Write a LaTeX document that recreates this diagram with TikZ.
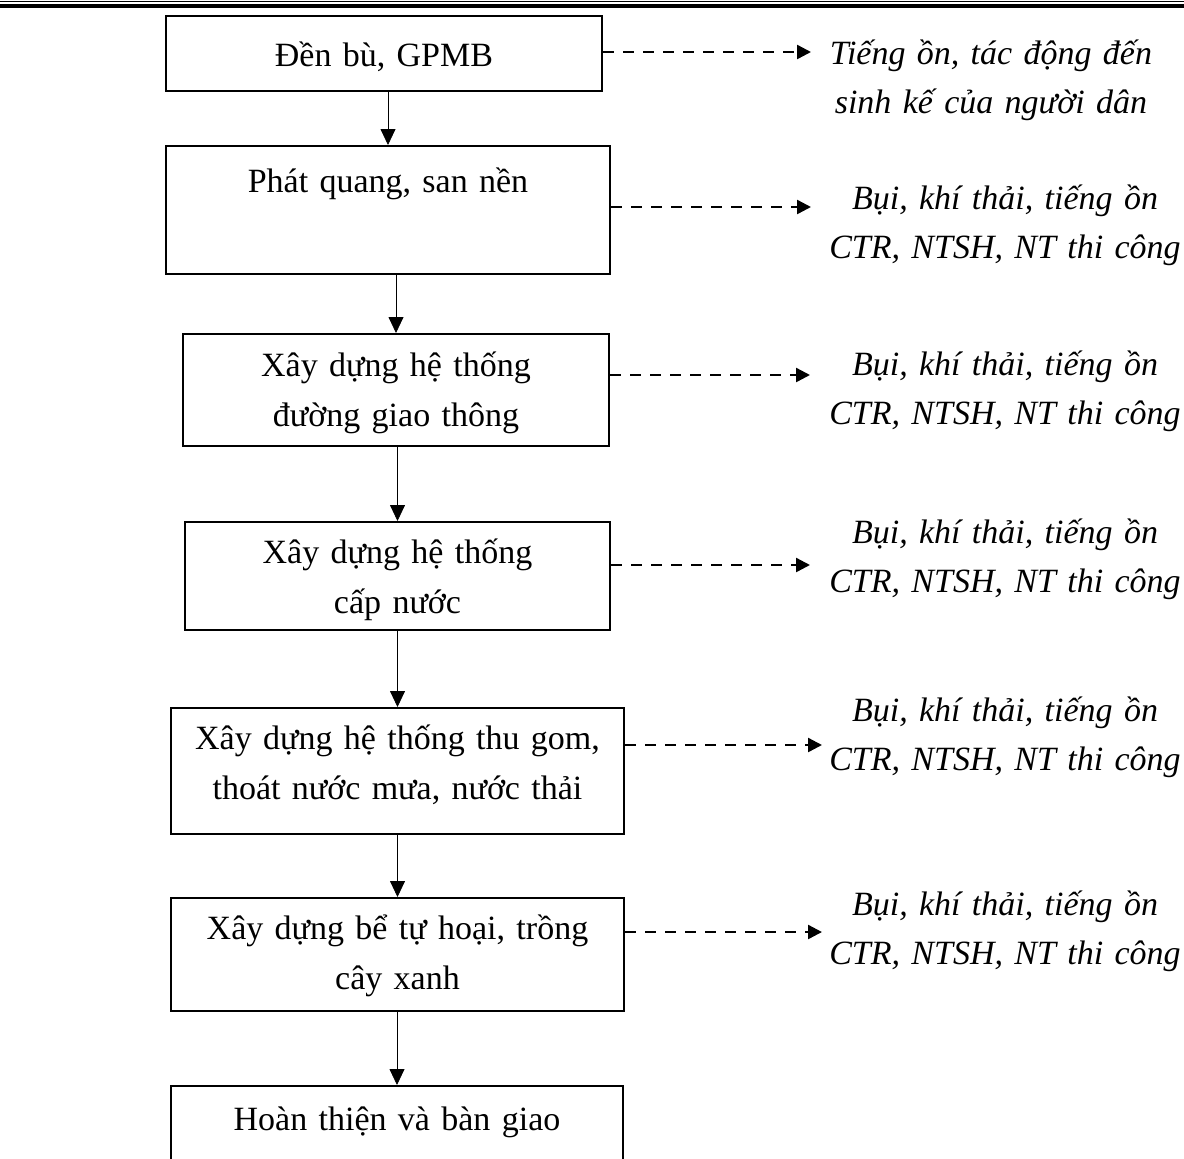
\documentclass[tikz,border=0pt]{standalone}
\usepackage{fontspec}
\setmainfont{Liberation Serif}
\usepackage{tikz}
\usetikzlibrary{arrows.meta}
\tikzset{>={Triangle[length=8pt,width=7.5pt]}, line width=1.2pt}
\tikzset{
  stage/.style={draw,line width=1pt,anchor=north,inner sep=0pt,align=center,
    font=\fontsize{17}{25}\selectfont},
  impact/.style={anchor=base,inner sep=0pt,align=center,text width=200pt,
    font=\fontsize{17}{24.5}\selectfont\itshape},
  effect/.style={-{Triangle[length=7pt,width=7pt]},
    dash pattern=on 5.5pt off 4.5pt,line width=1.2pt}
}

\begin{document}
\begin{tikzpicture}[x=0.5pt,y=-0.5pt]
  \useasboundingbox (0,0) rectangle (1184,1158);
  \clip (0,0) rectangle (1184,1158);

  % header rule
  \draw[line width=0.6pt] (0,1.5) -- (1184,1.5);
  \draw[line width=2pt] (0,5.5) -- (1184,5.5);

  % Den bu, GPMB
  \node[stage,text width=218pt,text height=25pt,text depth=12.5pt]
    (b1) at (384,15) {Đền bù, GPMB};
  % Phat quang
  \node[stage,text width=222pt,text height=23pt,text depth=41pt]
    (b2) at (388,145) {Phát quang, san nền};
  % Giao thong
  \node[stage,text width=213pt,text height=21pt,text depth=35pt]
    (b3) at (396,333) {Xây dựng hệ thống\\đường giao thông};
  % Cap nuoc
  \node[stage,text width=212.5pt,text height=20.5pt,text depth=33.5pt]
    (b4) at (397.5,521) {Xây dựng hệ thống\\cấp nước};
  % Thoat nuoc
  \node[stage,text width=226.5pt,text height=20.5pt,text depth=42.5pt]
    (b5) at (397.5,707) {Xây dựng hệ thống thu gom,\\thoát nước mưa, nước thải};
  % Be tu hoai
  \node[stage,text width=226.5pt,text height=20.5pt,text depth=36pt]
    (b6) at (397.5,897) {Xây dựng bể tự hoại, trồng\\cây xanh};
  % Hoan thien
  \node[stage,text width=226pt,text height=22pt,text depth=50pt]
    (b7) at (397,1085) {Hoàn thiện và bàn giao};

  % main flow
  \draw[->] (b1.south -| b2.north) -- (b2.north);
  \draw[->] (b2.south -| b3.north) -- (b3.north);
  \draw[->] (b3.south -| b4.north) -- (b4.north);
  \draw[->] (b4.south -| b5.north) -- (b5.north);
  \draw[->] (b5.south -| b6.north) -- (b6.north);
  \draw[->] (b6.south -| b7.north) -- (b7.north);

  % impacts
  \node[impact] (e1) at (991,64) {Tiếng ồn, tác động đến\\sinh kế của người dân};
  \node[impact] (e2) at (1005,209) {Bụi, khí thải, tiếng ồn\\CTR, NTSH, NT thi công};
  \node[impact] (e3) at (1005,375) {Bụi, khí thải, tiếng ồn\\CTR, NTSH, NT thi công};
  \node[impact] (e4) at (1005,543) {Bụi, khí thải, tiếng ồn\\CTR, NTSH, NT thi công};
  \node[impact] (e5) at (1005,721) {Bụi, khí thải, tiếng ồn\\CTR, NTSH, NT thi công};
  \node[impact] (e6) at (1005,915) {Bụi, khí thải, tiếng ồn\\CTR, NTSH, NT thi công};

  % dashed links
  \coordinate (t1) at (811,52);
  \coordinate (t2) at (811,207);
  \coordinate (t3) at (810,375);
  \coordinate (t4) at (810,565);
  \coordinate (t5) at (822,745);
  \coordinate (t6) at (822,932);
  \draw[effect] (t1 -| b1.east) -- (t1);
  \draw[effect] (t2 -| b2.east) -- (t2);
  \draw[effect] (t3 -| b3.east) -- (t3);
  \draw[effect] (t4 -| b4.east) -- (t4);
  \draw[effect] (t5 -| b5.east) -- (t5);
  \draw[effect] (t6 -| b6.east) -- (t6);
\end{tikzpicture}
\end{document}
